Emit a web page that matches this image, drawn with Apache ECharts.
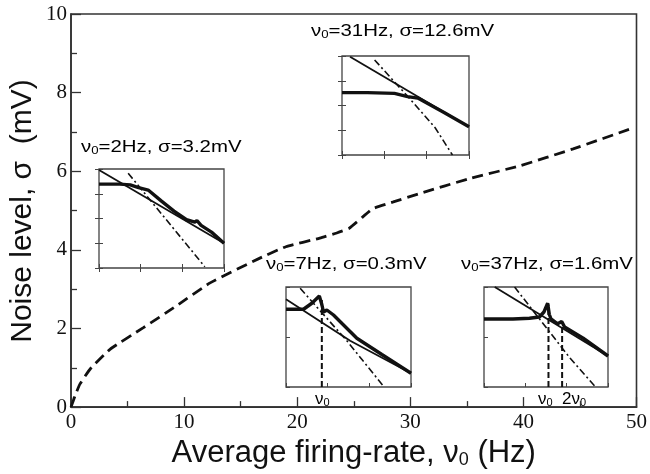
<!DOCTYPE html>
<html>
<head>
<meta charset="utf-8">
<script src="https://cdn.jsdelivr.net/npm/echarts@6/dist/echarts.min.js"></script>
<style>
  html, body { margin: 0; padding: 0; background: #fff; }
  #main { width: 650px; height: 474px; }
</style>
</head>
<body>
<div id="main"></div>
<script>
// main curve: noise level vs firing rate
var rateHz = [0, 0.4, 0.8, 1.7, 3.45, 6.4, 9.3, 12.3, 16.7, 19, 22, 23.5, 24.6, 25.8, 26.7, 28.5, 30.8, 35.2, 39.7, 44.4, 49.8];
var noiseMv = [0, 0.32, 0.59, 0.97, 1.47, 2.02, 2.57, 3.16, 3.79, 4.08, 4.3, 4.43, 4.55, 4.84, 5.05, 5.22, 5.43, 5.81, 6.14, 6.57, 7.11];

// insets (arbitrary units, x 0..3, y 0..4)
// inset 1: v0=2Hz
var in1Solid = [[0, 3.96], [3, 1.0]];
var in1DashDot = [[0.7, 3.83], [2.54, 0.05]];
var in1Data = [[0, 3.39], [0.5, 3.39], [0.75, 3.36], [0.95, 3.25], [1.18, 3.15], [1.5, 2.7], [1.8, 2.3], [2.1, 1.95], [2.3, 1.85], [2.35, 1.92], [2.45, 1.72], [2.7, 1.45], [3, 1.0]];
// inset 2: v0=31Hz
var in2Solid = [[0.19, 3.97], [3, 1.14]];
var in2DashDot = [[0.77, 3.84], [1.63, 2.22], [2.2, 1.1], [2.61, 0]];
var in2Data = [[0, 2.52], [0.6, 2.52], [1.24, 2.49], [1.55, 2.36], [1.79, 2.3], [2.4, 1.73], [3, 1.14]];
// inset 3: v0=7Hz
var in3Solid = [[0, 3.51], [1.54, 1.85], [3, 0.55]];
var in3DashDot = [[0.34, 3.95], [1.46, 1.85], [2.33, 0.05]];
var in3Data = [[0, 3.11], [0.42, 3.11], [0.62, 3.35], [0.8, 3.64], [0.86, 3.3], [0.9, 3.0], [0.98, 3.08], [1.14, 2.88], [1.26, 2.68], [1.7, 1.95], [2.3, 1.3], [3, 0.55]];
var in3Marks = [[0.86, 0], [0.86, 3.6]];
// inset 4: v0=37Hz
var in4Solid = [[0.26, 4.0], [3, 1.24]];
var in4DashDot = [[0.74, 4.0], [2.06, 1.2], [2.7, 0]];
var in4Data = [[0, 2.72], [0.7, 2.72], [1.1, 2.75], [1.34, 2.8], [1.45, 3.0], [1.54, 3.35], [1.58, 2.9], [1.62, 2.73], [1.78, 2.53], [1.88, 2.62], [1.95, 2.4], [2.4, 1.95], [3, 1.24]];
var in4Mark1 = [[1.56, 0], [1.56, 3.3]];
var in4Mark2 = [[1.89, 0], [1.89, 2.6]];

var chart = echarts.init(document.getElementById('main'));

var sub = {
  a: { fontSize: 17, fontFamily: 'Liberation Sans', color: '#111', lineHeight: 22, verticalAlign: 'bottom' },
  s: { fontSize: 11, fontFamily: 'Liberation Sans', color: '#111', lineHeight: 11, verticalAlign: 'bottom' }
};

function insetAxis(grid, pos, interval, isY) {
  return {
    type: 'value', gridIndex: grid, position: pos,
    min: 0, max: isY ? 4 : 3, interval: interval,
    axisLine: { show: false },
    axisTick: { show: true, inside: true, length: 4, lineStyle: { color: '#444', width: 1 } },
    axisLabel: { show: false },
    splitLine: { show: false }
  };
}

function lineSeries(xi, yi, data, style) {
  return {
    type: 'line', xAxisIndex: xi, yAxisIndex: yi, data: data,
    showSymbol: false, silent: true, animation: false,
    lineStyle: style
  };
}

// inset caption, slightly stretched like the original figure
function caption(x, y, text, sx) {
  return { type: 'text', x: x, y: y, scaleX: sx || 1.2, style: { text: text, rich: sub } };
}

var solid = { color: '#111', width: 1.8 };
var dashDot = { color: '#111', width: 1.6, type: [7, 3, 2, 3] };
var thick = { color: '#111', width: 3.4 };
var vdash = { color: '#111', width: 2, type: [6, 3] };

var insetGrid = { show: true, backgroundColor: '#fff', borderColor: '#444', borderWidth: 1.3 };

chart.setOption({
  animation: false,
  grid: [
    { left: 71, top: 14, width: 566, height: 396, show: true, borderColor: '#333', borderWidth: 1.6 },
    Object.assign({ left: 99, top: 169, width: 125, height: 99 }, insetGrid),
    Object.assign({ left: 342, top: 56, width: 127, height: 99 }, insetGrid),
    Object.assign({ left: 286, top: 287, width: 125, height: 100 }, insetGrid),
    Object.assign({ left: 484, top: 287, width: 124, height: 100 }, insetGrid)
  ],
  xAxis: [
    {
      type: 'value', gridIndex: 0, min: 0, max: 50, interval: 10,
      name: '{a|Average firing-rate, ν}{s|0}{a| (Hz)}',
      nameLocation: 'middle', nameGap: 22,
      nameTextStyle: {
        rich: {
          a: { fontSize: 31, fontFamily: 'Liberation Sans', color: '#111', lineHeight: 36, verticalAlign: 'bottom' },
          s: { fontSize: 18, fontFamily: 'Liberation Sans', color: '#111', lineHeight: 18, verticalAlign: 'bottom' }
        }
      },
      axisLine: { lineStyle: { color: '#333', width: 1.6 } },
      axisTick: { inside: true, length: 10, lineStyle: { color: '#333', width: 1.3 } },
      minorTick: { show: true, splitNumber: 2, length: 6, lineStyle: { color: '#333', width: 1.3 } },
      axisLabel: { fontFamily: 'Liberation Serif', fontSize: 21, color: '#111', margin: 5 },
      splitLine: { show: false }
    },
    insetAxis(1, 'bottom', 1, false),
    insetAxis(1, 'top', 1, false),
    insetAxis(2, 'bottom', 1, false),
    insetAxis(2, 'top', 1, false),
    insetAxis(3, 'bottom', 1, false),
    insetAxis(4, 'bottom', 1, false)
  ],
  yAxis: [
    {
      type: 'value', gridIndex: 0, min: 0, max: 10, interval: 2,
      axisLine: { lineStyle: { color: '#333', width: 1.6 } },
      axisTick: { inside: true, length: 10, lineStyle: { color: '#333', width: 1.3 } },
      minorTick: { show: true, splitNumber: 2, length: 6, lineStyle: { color: '#333', width: 1.3 } },
      axisLabel: { fontFamily: 'Liberation Serif', fontSize: 21, color: '#111', margin: 4 },
      splitLine: { show: false }
    },
    insetAxis(1, 'left', 1, true),
    insetAxis(1, 'right', 1, true),
    insetAxis(2, 'left', 1, true),
    insetAxis(2, 'right', 1, true),
    insetAxis(3, 'left', 2, true),
    insetAxis(4, 'left', 2, true)
  ],
  series: [
    {
      type: 'line', xAxisIndex: 0, yAxisIndex: 0,
      data: rateHz.map(function (r, i) { return [r, noiseMv[i]]; }),
      showSymbol: false, smooth: 0.15, animation: false,
      lineStyle: { color: '#111', width: 2.8, type: [11, 6] }
    },
    lineSeries(1, 1, in1Solid, solid),
    lineSeries(1, 1, in1DashDot, dashDot),
    lineSeries(1, 1, in1Data, thick),
    lineSeries(3, 3, in2Solid, solid),
    lineSeries(3, 3, in2DashDot, dashDot),
    lineSeries(3, 3, in2Data, thick),
    lineSeries(5, 5, in3Solid, solid),
    lineSeries(5, 5, in3DashDot, dashDot),
    lineSeries(5, 5, in3Data, thick),
    lineSeries(5, 5, in3Marks, vdash),
    lineSeries(6, 6, in4Solid, solid),
    lineSeries(6, 6, in4DashDot, dashDot),
    lineSeries(6, 6, in4Data, thick),
    lineSeries(6, 6, in4Mark1, vdash),
    lineSeries(6, 6, in4Mark2, vdash)
  ],
  graphic: [
    {
      type: 'text', x: 23, y: 211, rotation: Math.PI / 2,
      style: {
        text: 'Noise level, σ  (mV)', fontSize: 30, fontFamily: 'Liberation Sans',
        fill: '#111', align: 'center', verticalAlign: 'middle'
      }
    },
    caption(81, 134, '{a|ν}{s|0}{a|=2Hz, σ=3.2mV}'),
    caption(311, 18, '{a|ν}{s|0}{a|=31Hz, σ=12.6mV}'),
    caption(266, 251, '{a|ν}{s|0}{a|=7Hz, σ=0.3mV}'),
    caption(461, 251, '{a|ν}{s|0}{a|=37Hz, σ=1.6mV}'),
    caption(315, 386, '{a|ν}{s|0}', 1),
    caption(538, 386, '{a|ν}{s|0}', 1),
    caption(562, 386, '{a|2ν}{s|0}', 1)
  ]
});
</script>
</body>
</html>
